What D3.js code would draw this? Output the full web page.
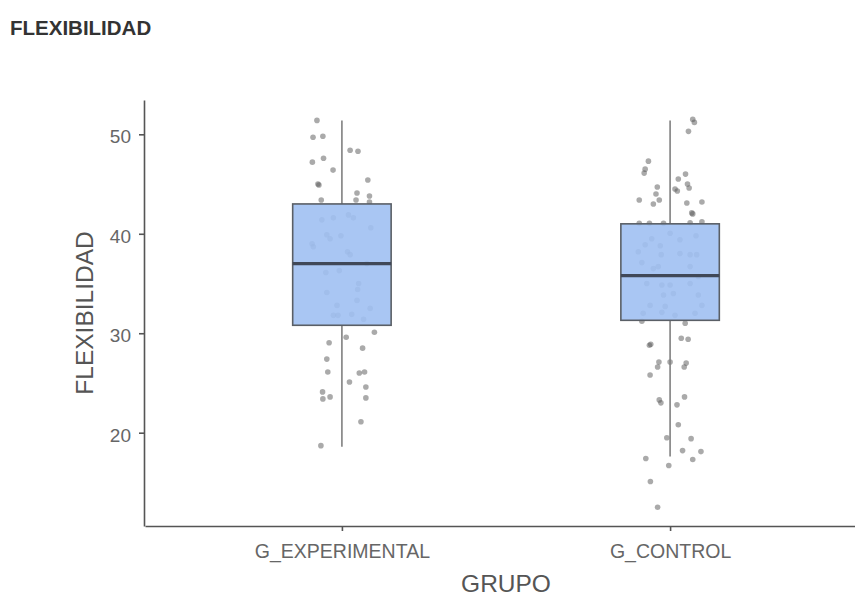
<!DOCTYPE html>
<html>
<head>
  <title>FLEXIBILIDAD</title>
  <script src="https://d3js.org/d3.v7.min.js"></script>
  <style>
    body { margin: 0; background: #fff; }
    text { font-family: "Liberation Sans", Arial, sans-serif; }
  </style>
</head>
<body>

<script>
const groups = ['G_EXPERIMENTAL', 'G_CONTROL'];

// box stats: [lower whisker, q1, median, q3, upper whisker]
const expBox  = [18.6, 30.8, 37.0, 43.0, 51.4];
const ctrlBox = [17.6, 31.3, 35.8, 41.0, 51.4];

const yTicks = [20, 30, 40, 50];

// observed values and horizontal jitter (in category units)
const expValues = [51.4, 49.7, 49.8, 47.2, 47.6, 46.4, 48.4, 48.3, 45.0, 44.9, 45.4, 44.1, 43.8, 43.4, 43.4, 43.2,
  41.4, 41.6, 41.9, 41.6, 40.6, 39.9, 39.5, 39.8, 39.0, 38.7, 38.2, 37.9, 37.0, 36.1, 36.3, 35.0, 34.4, 34.1,
  33.3, 32.8, 32.5, 31.8, 31.8, 31.9, 31.4, 30.1, 29.6, 29.05, 28.5, 27.4, 26.1, 26.0, 26.1, 25.1, 24.6, 24.1,
  23.4, 23.6, 23.5, 21.1, 18.7];
const expJitter = [-0.076, -0.088, -0.058, -0.090, -0.056, -0.027, 0.025, 0.049, -0.073, -0.070, 0.079, 0.046, 0.084, -0.063, 0.043, 0.084,
  -0.061, -0.026, 0.020, 0.035, 0.088, -0.046, -0.036, -0.003, -0.091, -0.087, 0.017, 0.025, 0.076, -0.049, -0.008, 0.051, 0.048, -0.046,
  0.046, -0.015, 0.086, -0.026, -0.012, 0.030, 0.066, 0.099, 0.013, -0.039, 0.063, -0.046, -0.043, 0.053, 0.069, 0.023, 0.073, -0.059,
  -0.058, -0.036, 0.073, 0.058, -0.064];

const ctrlValues = [51.5, 51.2, 50.3, 47.3, 46.5, 46.1, 45.5, 46.0, 45.0, 44.6, 44.7, 44.5, 44.3, 44.0, 43.4, 43.0, 43.4, 43.1, 43.2,
  42.0, 42.1, 41.05, 41.05, 41.05, 41.1, 41.2, 40.05, 39.5, 39.4, 39.8, 38.9, 38.8, 38.2, 37.9, 38.0, 37.9, 37.9, 37.1,
  36.5, 36.7, 36.7, 35.0, 34.85, 34.85, 35.0, 35.7, 33.85, 34.0, 33.85, 32.8, 32.7, 32.8, 32.0, 32.1, 31.8, 32.0,
  31.2, 31.0, 29.5, 29.4, 28.8, 28.9, 27.1, 27.1, 27.0, 26.6, 26.6, 25.8, 23.3, 23.0, 23.6, 22.8, 20.8, 19.5, 19.4,
  18.2, 18.1, 17.4, 17.3, 16.7, 15.1, 12.5];
const ctrlJitter = [0.069, 0.074, 0.056, -0.066, -0.076, -0.079, 0.025, 0.047, 0.053, 0.058, -0.039, 0.015, 0.022, -0.043, -0.033, -0.051, -0.094, 0.051, 0.097,
  0.069, 0.066, -0.094, -0.063, -0.020, 0.061, 0.097, 0.000, -0.056, 0.030, 0.079, -0.076, -0.030, -0.097, -0.027, 0.030, 0.061, 0.081, -0.086,
  -0.051, -0.036, 0.061, -0.071, -0.025, 0.000, 0.061, 0.086, -0.020, 0.010, 0.086, -0.061, -0.015, 0.097, -0.082, -0.025, 0.015, 0.076,
  -0.086, 0.046, 0.034, 0.055, -0.063, -0.059, -0.034, 0.000, 0.049, 0.043, -0.038, -0.061, -0.033, -0.028, 0.044, 0.021, 0.025, -0.010, 0.064,
  0.038, 0.094, -0.074, 0.069, -0.004, -0.060, -0.038];

const width = 855;
const height = 597;

const svg = d3.select('body')
  .append('svg')
  .attr('width', width)
  .attr('height', height);

// category positions 1 and 2, ggplot-like expansion of 0.6
const x = d3.scaleLinear().domain([0.4, 2.6]).range([145, 867]);
const y = d3.scaleLinear().domain([10.62, 53.45]).range([526, 100]);
const boxW = 0.3;

// title
svg.append('text')
  .attr('x', 10)
  .attr('y', 35)
  .attr('font-size', 20.5)
  .attr('font-weight', 'bold')
  .attr('fill', '#333')
  .text('FLEXIBILIDAD');

const plot = svg.append('g');

const series = [
  { box: expBox, values: expValues, jitter: expJitter },
  { box: ctrlBox, values: ctrlValues, jitter: ctrlJitter }
];

// jittered points first
series.forEach((s, i) => {
  plot.append('g').selectAll('circle')
    .data(s.values)
    .enter().append('circle')
      .attr('cx', (d, j) => x(i + 1 + s.jitter[j]))
      .attr('cy', d => y(d))
      .attr('r', 2.8)
      .attr('fill', '#555')
      .attr('fill-opacity', 0.5);
});

// boxes on top
series.forEach((s, i) => {
  const g = plot.append('g');
  const c = i + 1;
  const [lo, q1, med, q3, hi] = s.box;
  g.append('line')
    .attr('x1', x(c)).attr('x2', x(c))
    .attr('y1', y(hi)).attr('y2', y(q3))
    .attr('stroke', '#808080').attr('stroke-width', 1.6);
  g.append('line')
    .attr('x1', x(c)).attr('x2', x(c))
    .attr('y1', y(q1)).attr('y2', y(lo))
    .attr('stroke', '#808080').attr('stroke-width', 1.6);
  g.append('rect')
    .attr('x', x(c - boxW / 2))
    .attr('width', x(c + boxW / 2) - x(c - boxW / 2))
    .attr('y', y(q3))
    .attr('height', y(q1) - y(q3))
    .attr('fill', 'rgb(160,192,242)')
    .attr('fill-opacity', 0.9)
    .attr('stroke', '#5a5f66')
    .attr('stroke-width', 1.6);
  g.append('line')
    .attr('x1', x(c - boxW / 2)).attr('x2', x(c + boxW / 2))
    .attr('y1', y(med)).attr('y2', y(med))
    .attr('stroke', '#404858').attr('stroke-width', 3.2);
});

// axes
const axisColor = '#555';
const yAxis = svg.append('g')
  .attr('transform', `translate(${x(0.4) - 1},0)`)
  .call(d3.axisLeft(y).tickValues(yTicks).tickSize(5).tickPadding(8).tickSizeOuter(0));
yAxis.select('.domain').attr('stroke', axisColor).attr('stroke-width', 1.6);
yAxis.selectAll('.tick line').attr('stroke', axisColor).attr('stroke-width', 1.6);
yAxis.selectAll('.tick text')
  .attr('font-size', 19)
  .attr('font-family', '"Liberation Sans", Arial, sans-serif')
  .attr('fill', '#666')
  .attr('dy', '0.45em');

const xAxis = svg.append('g')
  .attr('transform', `translate(0,${y(10.62)})`)
  .call(d3.axisBottom(x).tickValues([1, 2]).tickFormat(d => groups[d - 1]).tickSize(5).tickPadding(13).tickSizeOuter(0));
xAxis.select('.domain').attr('stroke', axisColor).attr('stroke-width', 1.6);
xAxis.selectAll('.tick line').attr('stroke', axisColor).attr('stroke-width', 1.6);
xAxis.selectAll('.tick text')
  .attr('font-size', 19.5)
  .attr('font-family', '"Liberation Sans", Arial, sans-serif')
  .attr('fill', '#666');

// axis titles
svg.append('text')
  .attr('x', (x(0.4) + x(2.6)) / 2)
  .attr('y', 592)
  .attr('text-anchor', 'middle')
  .attr('font-size', 24.5)
  .attr('fill', '#555')
  .text('GRUPO');

svg.append('text')
  .attr('transform', `translate(93,${(y.range()[0] + y.range()[1]) / 2}) rotate(-90)`)
  .attr('text-anchor', 'middle')
  .attr('font-size', 24.5)
  .attr('fill', '#555')
  .text('FLEXIBILIDAD');

</script>

</body>
</html>
